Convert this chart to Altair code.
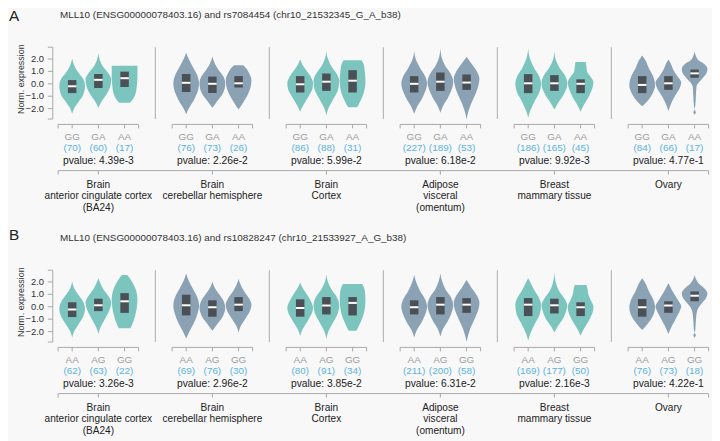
import altair as alt
import pandas as pd

# ---------------- data ----------------
titles = ["MLL10 (ENSG00000078403.16) and rs7084454 (chr10_21532345_G_A_b38)",
          "MLL10 (ENSG00000078403.16) and rs10828247 (chr10_21533927_A_G_b38)"]
row_letters = ["A", "B"]
tissues = [
    ["Brain", "anterior cingulate cortex", "(BA24)"],
    ["Brain", "cerebellar hemisphere"],
    ["Brain", "Cortex"],
    ["Adipose", "visceral", "(omentum)"],
    ["Breast", "mammary tissue"],
    ["Ovary"],
]
genotypes = [["GG", "GA", "AA"], ["AA", "AG", "GG"]]
counts = [
    [[70, 60, 17], [76, 73, 26], [86, 88, 31], [227, 189, 53], [186, 165, 45], [84, 66, 17]],
    [[62, 63, 22], [69, 76, 30], [80, 91, 34], [211, 200, 58], [169, 177, 50], [76, 73, 18]],
]
pvalues = [
    ["4.39e-3", "2.26e-2", "5.99e-2", "6.18e-2", "9.92e-3", "4.77e-1"],
    ["3.26e-3", "2.96e-2", "3.85e-2", "6.31e-2", "2.16e-3", "4.22e-1"],
]
y_ticks = [2.0, 1.0, 0.0, -1.0, -2.0]

# box statistics per panel / genotype: (q1, median, q3)
boxes_A = [
    [(-0.75, -0.20, 0.30), (-0.34, 0.32, 0.79), (-0.26, 0.45, 0.98)],
    [(-0.66, 0.08, 0.79), (-0.74, 0.00, 0.58), (-0.30, 0.04, 0.62)],
    [(-0.70, -0.04, 0.62), (-0.57, 0.17, 0.83), (-0.70, 0.25, 1.10)],
    [(-0.70, 0.00, 0.62), (-0.57, 0.17, 0.91), (-0.49, 0.10, 0.75)],
    [(-0.75, 0.04, 0.78), (-0.57, 0.04, 0.70), (-0.75, 0.00, 0.36)],
    [(-0.75, -0.09, 0.62), (-0.49, 0.04, 0.62), (0.49, 0.84, 1.15)],
]
boxes_B = [
    [(-0.83, -0.22, 0.36), (-0.35, 0.12, 0.65), (-0.49, 0.44, 1.10)],
    [(-0.70, 0.12, 0.97), (-0.80, -0.04, 0.52), (-0.35, 0.17, 0.78)],
    [(-0.80, -0.10, 0.60), (-0.62, 0.10, 0.78), (-0.70, 0.31, 0.78)],
    [(-0.62, -0.04, 0.52), (-0.62, 0.17, 0.78), (-0.49, 0.17, 0.70)],
    [(-0.75, 0.17, 0.70), (-0.54, 0.12, 0.65), (-0.75, -0.04, 0.36)],
    [(-0.80, -0.04, 0.62), (-0.49, 0.10, 0.44), (0.44, 0.89, 1.23)],
]

# violin outlines: (expression value, relative half width)
shapes_A = [
    [
        [(-2.43, 0), (-2.0, 0.15), (-1.45, 0.5), (-0.9, 0.85), (-0.15, 1.0), (0.4, 0.85), (0.95, 0.45), (1.5, 0.15), (2.04, 0)],
        [(-1.93, 0), (-1.5, 0.2), (-0.9, 0.6), (-0.3, 0.9), (0.35, 1.0), (0.9, 0.75), (1.4, 0.35), (1.9, 0.12), (2.46, 0)],
        [(-1.53, 0.4), (-1.3, 0.6), (-0.8, 0.85), (-0.2, 0.95), (0.5, 1.0), (1.45, 1.0)],
    ],
    [
        [(-2.46, 0), (-2.0, 0.2), (-1.3, 0.6), (-0.6, 0.9), (0.0, 1.0), (0.7, 0.85), (1.4, 0.5), (2.0, 0.2), (2.51, 0)],
        [(-1.93, 0), (-1.5, 0.3), (-0.8, 0.8), (0.0, 1.0), (0.6, 0.85), (1.1, 0.5), (1.6, 0.2), (2.2, 0)],
        [(-2.07, 0), (-1.6, 0.3), (-0.9, 0.7), (-0.2, 0.95), (0.3, 1.0), (0.9, 0.8), (1.3, 0.55), (1.5, 0.35)],
    ],
    [
        [(-2.26, 0), (-1.8, 0.2), (-1.1, 0.6), (-0.4, 0.95), (0.04, 1.0), (0.6, 0.8), (1.2, 0.4), (1.6, 0.15), (1.97, 0)],
        [(-2.55, 0), (-2.0, 0.15), (-1.3, 0.5), (-0.5, 0.9), (0.2, 1.0), (0.8, 0.8), (1.4, 0.4), (2.0, 0.12), (2.63, 0)],
        [(-1.89, 0.35), (-1.5, 0.55), (-0.8, 0.85), (0.2, 1.0), (1.0, 0.95), (1.6, 0.85), (1.89, 0.7)],
    ],
    [
        [(-2.42, 0), (-1.9, 0.2), (-1.2, 0.6), (-0.5, 0.9), (0.0, 1.0), (0.6, 0.85), (1.3, 0.45), (2.0, 0.12), (2.63, 0)],
        [(-2.34, 0), (-1.8, 0.2), (-1.1, 0.6), (-0.4, 0.9), (0.15, 1.0), (0.8, 0.8), (1.5, 0.35), (2.2, 0.08), (2.9, 0)],
        [(-2.87, 0), (-2.3, 0.12), (-1.6, 0.35), (-0.8, 0.7), (0.0, 0.95), (0.4, 1.0), (1.0, 0.8), (1.6, 0.4), (2.16, 0)],
    ],
    [
        [(-2.74, 0), (-2.2, 0.15), (-1.4, 0.5), (-0.6, 0.9), (0.0, 1.0), (0.6, 0.85), (1.3, 0.45), (2.0, 0.15), (2.87, 0)],
        [(-2.07, 0), (-1.6, 0.25), (-0.9, 0.7), (-0.2, 0.98), (0.05, 1.0), (0.7, 0.8), (1.3, 0.4), (1.9, 0.12), (2.63, 0)],
        [(-2.26, 0), (-1.8, 0.2), (-1.1, 0.6), (-0.4, 0.9), (0.1, 1.0), (0.6, 0.75), (1.0, 0.5), (1.4, 0.45), (1.76, 0.4)],
    ],
    [
        [(-1.81, 0), (-1.4, 0.4), (-0.8, 0.8), (-0.1, 1.0), (0.6, 0.85), (1.3, 0.5), (1.9, 0.25), (2.29, 0)],
        [(-2.2, 0), (-1.6, 0.2), (-1.0, 0.5), (-0.3, 0.9), (0.1, 1.0), (0.6, 0.7), (1.2, 0.35), (1.6, 0.2), (1.95, 0)],
        [(-2.5, 0), (-2.3, 0.1), (-2.05, 0), (-1.8, 0.05), (-1.0, 0.1), (-0.2, 0.15), (0.3, 0.5), (0.8, 0.9),
         (1.2, 1.0), (1.6, 0.75), (1.9, 0.3), (2.2, 0.12), (2.6, 0)],
    ],
]
shapes_B = [
    [
        [(-2.47, 0), (-2.0, 0.15), (-1.4, 0.5), (-0.8, 0.85), (-0.2, 1.0), (0.4, 0.85), (1.0, 0.45), (1.5, 0.15), (2.03, 0)],
        [(-2.2, 0), (-1.7, 0.15), (-1.0, 0.5), (-0.3, 0.85), (0.3, 1.0), (0.9, 0.75), (1.4, 0.4), (1.9, 0.15), (2.29, 0)],
        [(-1.73, 0.45), (-1.4, 0.6), (-0.8, 0.8), (-0.1, 0.95), (0.6, 1.0), (1.3, 0.9), (1.9, 0.65), (2.3, 0.4), (2.56, 0.2)],
    ],
    [
        [(-2.55, 0), (-2.0, 0.25), (-1.3, 0.6), (-0.5, 0.9), (0.1, 1.0), (0.8, 0.85), (1.5, 0.5), (2.1, 0.2), (2.69, 0)],
        [(-1.94, 0), (-1.5, 0.3), (-0.8, 0.8), (-0.1, 1.0), (0.5, 0.85), (1.1, 0.45), (1.6, 0.15), (2.03, 0)],
        [(-2.07, 0), (-1.6, 0.15), (-1.0, 0.5), (-0.3, 0.9), (0.15, 1.0), (0.7, 0.8), (1.3, 0.4), (1.8, 0.15), (2.24, 0)],
    ],
    [
        [(-2.34, 0), (-1.8, 0.2), (-1.1, 0.6), (-0.4, 0.95), (-0.1, 1.0), (0.5, 0.8), (1.1, 0.45), (1.6, 0.15), (1.95, 0)],
        [(-2.6, 0), (-2.0, 0.15), (-1.3, 0.5), (-0.5, 0.9), (0.1, 1.0), (0.8, 0.8), (1.4, 0.4), (2.0, 0.12), (2.63, 0)],
        [(-1.94, 0.3), (-1.5, 0.5), (-0.8, 0.8), (0.0, 0.97), (0.6, 1.0), (1.3, 0.95), (1.84, 0.75)],
    ],
    [
        [(-2.47, 0), (-1.9, 0.2), (-1.2, 0.6), (-0.5, 0.9), (0.0, 1.0), (0.6, 0.85), (1.3, 0.45), (2.0, 0.15), (2.56, 0)],
        [(-2.39, 0), (-1.8, 0.2), (-1.1, 0.6), (-0.4, 0.9), (0.1, 1.0), (0.8, 0.8), (1.4, 0.4), (2.1, 0.12), (2.69, 0)],
        [(-2.82, 0), (-2.3, 0.12), (-1.6, 0.35), (-0.8, 0.7), (-0.1, 0.95), (0.3, 1.0), (0.9, 0.8), (1.5, 0.4), (2.16, 0)],
    ],
    [
        [(-2.74, 0), (-2.2, 0.15), (-1.4, 0.5), (-0.6, 0.9), (0.15, 1.0), (0.7, 0.85), (1.3, 0.5), (1.9, 0.2), (2.29, 0)],
        [(-2.07, 0), (-1.6, 0.25), (-0.9, 0.7), (-0.2, 0.95), (0.1, 1.0), (0.7, 0.75), (1.3, 0.35), (2.0, 0.1), (2.82, 0)],
        [(-2.34, 0), (-1.8, 0.25), (-1.1, 0.65), (-0.4, 0.95), (0.0, 1.0), (0.5, 0.8), (1.0, 0.6), (1.4, 0.55), (1.76, 0.45)],
    ],
    [
        [(-1.87, 0), (-1.4, 0.4), (-0.8, 0.8), (-0.05, 1.0), (0.6, 0.85), (1.3, 0.5), (1.9, 0.25), (2.29, 0)],
        [(-2.2, 0), (-1.6, 0.25), (-1.0, 0.55), (-0.3, 0.9), (0.0, 1.0), (0.6, 0.7), (1.2, 0.35), (1.6, 0.15), (1.89, 0)],
        [(-2.5, 0), (-2.3, 0.1), (-2.1, 0), (-1.9, 0.05), (-1.1, 0.1), (-0.3, 0.2), (0.2, 0.5), (0.7, 0.9),
         (1.1, 1.0), (1.5, 0.75), (1.9, 0.3), (2.2, 0.12), (2.56, 0)],
    ],
]

# ---------------- layout (reference pixel geometry) ----------------
W, H = 712, 433
MARGIN = 8
PANEL0_X = 99.4
PANEL_DX = 115.3
ZERO_Y = 82.2
UNIT_Y = 12.55
ROW_DY = 225.5
ROWU = ROW_DY / UNIT_Y


def ux(ref_x):
    return (ref_x - PANEL0_X) / PANEL_DX


def vy(ref_y, r=0):
    return (ZERO_Y - ref_y) / UNIT_Y - r * ROWU


GOFF = 26.5 / PANEL_DX
HALF = 13.0 / PANEL_DX
BOXH = 4.3 / PANEL_DX
BR = 40.7 / PANEL_DX
TICK = 4.0 / UNIT_Y
AX_TOP, AX_BOT = 2.95, -2.84

BG = "#f8f8f8"
TEAL = "#7bc5be"
SLATE = "#8aa2b4"
BOXC = "#4b5056"
AXC = "#a8a8a8"
SEPC = "#b8b8b8"
GENC = "#9c9c9c"
CNTC = "#5ab3dd"
TXTC = "#222222"

x_scale = alt.Scale(domain=[ux(MARGIN), ux(MARGIN + W)], nice=False, zero=False)
y_scale = alt.Scale(domain=[vy(MARGIN + H), vy(MARGIN)], nice=False, zero=False)

# ---------------- tables ----------------
vrows, brows, segs, texts = [], [], [], []


def seg(u1, u2, v1, v2, color=AXC, sw=1.0):
    segs.append(dict(u=u1, u2=u2, v=v1, v2=v2, color=color, sw=sw))


def txt(u, v, s, size, color, angle=0, align="center"):
    texts.append(dict(u=u, v=v, text=s, size=size, color=color, angle=angle, align=align))


letter_y = [14.0, 235.5]
for r, (shapes, boxes) in enumerate([(shapes_A, boxes_A), (shapes_B, boxes_B)]):
    off = r * ROWU
    for p in range(6):
        fill = TEAL if p % 2 == 0 else SLATE
        for g in range(3):
            cu = p + (g - 1) * GOFF
            for val, w in shapes[p][g]:
                vrows.append(dict(vid=f"{r}-{p}-{g}", y=val - off,
                                  x=cu - w * HALF, x2=cu + w * HALF, fill=fill))
            q1, med, q3 = boxes[p][g]
            brows.append(dict(x=cu - BOXH, x2=cu + BOXH, q1=q1 - off, q3=q3 - off, med=med - off))
            txt(cu, vy(135.6, r), genotypes[r][g], 10, GENC)
            txt(cu, vy(146.8, r), f"({counts[r][p][g]})", 10, CNTC)
        txt(p, vy(160.7, r), "pvalue: " + pvalues[r][p], 10.4, TXTC)
        for i, line in enumerate(tissues[p]):
            txt(p, vy(184.3 + i * 11.9, r), line, 10.2, TXTC)
        # genotype bracket
        vb = vy(123.3, r)
        seg(p - BR, p + BR, vb, vb)
        for t in [p - BR, p - GOFF, p, p + GOFF, p + BR]:
            seg(t, t, vb, vb - TICK)
        if p < 5:
            seg(p + 0.5, p + 0.5, AX_BOT - off, AX_TOP - off, SEPC, 1.2)
    # tissue axis
    vt = vy(170.0, r)
    seg(-BR, 5 + BR, vt, vt)
    for t in [-BR, 0, 1, 2, 3, 4, 5, 5 + BR]:
        seg(t, t, vt, vt - TICK)
    # y axis
    seg(ux(53.3), ux(53.3), AX_BOT - off, AX_TOP - off)
    for t in y_ticks + [AX_TOP, AX_BOT]:
        seg(ux(48.3), ux(53.3), t - off, t - off)
    for t in y_ticks:
        lab = f"{abs(t):.1f}" if t >= 0 else "\u2212" + f"{abs(t):.1f}"
        txt(ux(44.5), t - off, lab, 9.5, "#333333", align="right")
    txt(ux(20.7), 0.37 - off, "Norm. expression", 9, "#333333", angle=270)
    txt(ux(60.5), vy(12.8, r), titles[r], 10, "#333333", align="left")
    txt(ux(9.0), vy(letter_y[r]), row_letters[r], 15.5, "#222222", align="left")

vdf = pd.DataFrame(vrows)
bdf = pd.DataFrame(brows)
sdf = pd.DataFrame(segs)
tdf = pd.DataFrame(texts)

X = lambda f: alt.X(f, type="quantitative", scale=x_scale, axis=None)
Y = lambda f: alt.Y(f, type="quantitative", scale=y_scale, axis=None)

violins = alt.Chart(vdf).mark_area(orient="horizontal", interpolate="monotone").encode(
    x=X("x"), x2="x2:Q", y=Y("y"), detail="vid:N",
    color=alt.Color("fill:N", scale=None))

box = alt.Chart(bdf).mark_rect(color=BOXC).encode(x=X("x"), x2="x2:Q", y=Y("q1"), y2="q3:Q")
median = alt.Chart(bdf).mark_rule(color="white", strokeWidth=2).encode(x=X("x"), x2="x2:Q", y=Y("med"))

rules = alt.Chart(sdf).mark_rule().encode(
    x=X("u"), x2="u2:Q", y=Y("v"), y2="v2:Q",
    color=alt.Color("color:N", scale=None),
    strokeWidth=alt.StrokeWidth("sw:Q", scale=None))

text_layers = []
for al in ["left", "center", "right"]:
    sub = tdf[tdf["align"] == al]
    text_layers.append(
        alt.Chart(sub).mark_text(align=al, baseline="middle", font="Liberation Sans").encode(
            x=X("u"), y=Y("v"), text="text:N",
            size=alt.Size("size:Q", scale=None),
            color=alt.Color("color:N", scale=None),
            angle=alt.Angle("angle:Q", scale=None)))

chart = alt.layer(rules, violins, box, median, *text_layers).properties(
    width=W, height=H, padding=0,
    autosize=alt.AutoSizeParams(type="none"),
    background=BG,
).configure_view(stroke=None)

chart.save("out.html", embed_options={"renderer": "svg", "actions": False})
